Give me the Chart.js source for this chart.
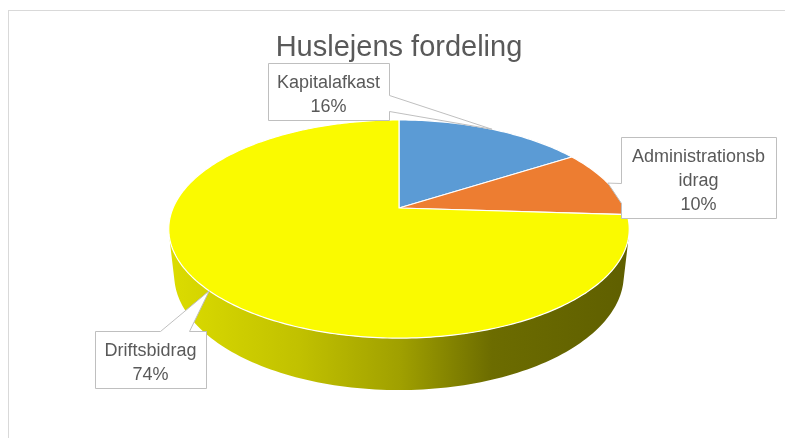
<!DOCTYPE html>
<html><head><meta charset="utf-8">
<script src="https://cdn.jsdelivr.net/npm/chart.js@4.4.0/dist/chart.umd.min.js"></script>
<style>
html,body{margin:0;padding:0;background:#fff;overflow:hidden;width:785px;height:438px}
#wrap{position:absolute;left:0;top:0;width:785px;height:438px}
</style></head><body>
<div id="wrap"><canvas id="c" width="785" height="438"></canvas></div>
<script>
// ---- data ----
const categories = ['Kapitalafkast', 'Administrationsbidrag', 'Driftsbidrag'];
const labelLines = [['Kapitalafkast'], ['Administrationsb', 'idrag'], ['Driftsbidrag']];
const values = [16, 10, 74];
const percentLabels = ['16%', '10%', '74%'];
const colors = ['#5B9BD5', '#ED7D31', '#FAFA00'];
const titleText = 'Huslejens fordeling';

// ---- 3D view (layout) ----
const VIEW = {cx: 399, cy: 208, F: 1037, D: 4.59, phi: 27.7 * Math.PI / 180, h: 0.2308};
const LABEL_BOXES = [
  {x: 268, y: 63, w: 121, side: 'right', b0: 32, b1: 48},
  {x: 621, y: 137, w: 155, side: 'left', b0: 46, b1: 66},
  {x: 95, y: 331, w: 111, side: 'top', b0: 65, b1: 94}
];
const FONT = '"Liberation Sans", Arial, sans-serif';

function proj(c, s, z) {
  const sp = Math.sin(VIEW.phi), cp = Math.cos(VIEW.phi);
  const depth = VIEW.D - s * cp - z * sp;
  return [VIEW.cx + VIEW.F * c / depth, VIEW.cy + VIEW.F * (s * sp - z * cp) / depth];
}
function hexToRgb(h) {
  const n = parseInt(h.slice(1), 16);
  return [(n >> 16) & 255, (n >> 8) & 255, n & 255];
}
function shade(hex, f) {
  const [r, g, b] = hexToRgb(hex);
  return `rgb(${Math.round(r * f)},${Math.round(g * f)},${Math.round(b * f)})`;
}

const pie3d = {
  id: 'pie3d',
  beforeDraw(chart) {
    const ctx = chart.ctx;
    ctx.save();
    ctx.strokeStyle = '#D9D9D9';
    ctx.lineWidth = 1;
    ctx.strokeRect(8.5, 10.5, 900, 600);
    ctx.restore();
  },
  beforeDatasetDraw(chart, args) {
    const ctx = chart.ctx;
    const meta = args.meta;
    const arcs = meta.data;
    const cp = Math.cos(VIEW.phi);
    const s0 = 1 / (VIEW.D * cp);
    const v0 = Math.asin(s0), v1 = Math.PI - v0;
    const N = 120;
    ctx.save();
    // side walls
    arcs.forEach((arc, i) => {
      const a0 = Math.max(arc.startAngle, v0), a1 = Math.min(arc.endAngle, v1);
      if (a1 <= a0) return;
      const base = chart.data.datasets[0].backgroundColor[i];
      const g = ctx.createLinearGradient(170, 0, 630, 0);
      g.addColorStop(0, shade(base, 0.88));
      g.addColorStop(0.28, shade(base, 0.77));
      g.addColorStop(0.5, shade(base, 0.64));
      g.addColorStop(0.7, shade(base, 0.43));
      g.addColorStop(1, shade(base, 0.38));
      ctx.beginPath();
      for (let k = 0; k <= N; k++) {
        const a = a0 + (a1 - a0) * k / N;
        const p = proj(Math.cos(a), Math.sin(a), 0);
        k === 0 ? ctx.moveTo(p[0], p[1]) : ctx.lineTo(p[0], p[1]);
      }
      for (let k = N; k >= 0; k--) {
        const a = a0 + (a1 - a0) * k / N;
        const p = proj(Math.cos(a), Math.sin(a), -VIEW.h);
        ctx.lineTo(p[0], p[1]);
      }
      ctx.closePath();
      ctx.fillStyle = g;
      ctx.fill();
    });
    // top faces
    arcs.forEach((arc, i) => {
      const a0 = arc.startAngle, a1 = arc.endAngle;
      const steps = Math.max(8, Math.ceil((a1 - a0) / (2 * Math.PI) * 360));
      ctx.beginPath();
      const c0 = proj(0, 0, 0);
      ctx.moveTo(c0[0], c0[1]);
      for (let k = 0; k <= steps; k++) {
        const a = a0 + (a1 - a0) * k / steps;
        const p = proj(Math.cos(a), Math.sin(a), 0);
        ctx.lineTo(p[0], p[1]);
      }
      ctx.closePath();
      ctx.fillStyle = chart.data.datasets[0].backgroundColor[i];
      ctx.fill();
      ctx.strokeStyle = '#FFFFFF';
      ctx.lineWidth = 1.2;
      ctx.lineJoin = 'round';
      ctx.stroke();
    });
    ctx.restore();
    return false;
  },
  afterDraw(chart) {
    const ctx = chart.ctx;
    const arcs = chart.getDatasetMeta(0).data;
    ctx.save();
    arcs.forEach((arc, i) => {
      const m = (arc.startAngle + arc.endAngle) / 2;
      const tip = proj(Math.cos(m), Math.sin(m), 0);
      const bx = LABEL_BOXES[i];
      const lines = labelLines[i].concat([percentLabels[i]]);
      const x = bx.x + 0.5, y = bx.y + 0.5, w = bx.w, h = lines.length * 24 + 9;
      ctx.beginPath();
      if (bx.side === 'right') {
        ctx.moveTo(x, y); ctx.lineTo(x + w, y); ctx.lineTo(x + w, y + bx.b0);
        ctx.lineTo(tip[0], tip[1]); ctx.lineTo(x + w, y + bx.b1);
        ctx.lineTo(x + w, y + h); ctx.lineTo(x, y + h);
      } else if (bx.side === 'left') {
        ctx.moveTo(x, y); ctx.lineTo(x + w, y); ctx.lineTo(x + w, y + h); ctx.lineTo(x, y + h);
        ctx.lineTo(x, y + bx.b1); ctx.lineTo(tip[0], tip[1]); ctx.lineTo(x, y + bx.b0);
      } else {
        ctx.moveTo(x, y); ctx.lineTo(x + bx.b0, y); ctx.lineTo(tip[0], tip[1]);
        ctx.lineTo(x + bx.b1, y); ctx.lineTo(x + w, y); ctx.lineTo(x + w, y + h); ctx.lineTo(x, y + h);
      }
      ctx.closePath();
      ctx.fillStyle = '#FFFFFF';
      ctx.fill();
      ctx.strokeStyle = '#BFBFBF';
      ctx.lineWidth = 1;
      ctx.stroke();
      ctx.fillStyle = '#595959';
      ctx.font = '18px ' + FONT;
      ctx.textAlign = 'center';
      ctx.textBaseline = 'alphabetic';
      lines.forEach((t, j) => ctx.fillText(t, bx.x + w / 2, bx.y + 25 + j * 24));
    });
    ctx.restore();
  }
};

new Chart(document.getElementById('c'), {
  type: 'pie',
  data: {
    labels: categories,
    datasets: [{data: values, backgroundColor: colors, borderColor: '#FFFFFF', borderWidth: 1}]
  },
  options: {
    responsive: false,
    animation: false,
    rotation: 0,
    layout: {padding: {left: 13, top: 10, right: 0, bottom: 20}},
    plugins: {
      legend: {display: false},
      tooltip: {enabled: false},
      title: {
        display: true, text: titleText, color: '#595959',
        font: {family: FONT, size: 29, weight: 'normal', lineHeight: 1.2},
        padding: {top: 21, bottom: 10}
      }
    }
  },
  plugins: [pie3d]
});
</script>
</body></html>
